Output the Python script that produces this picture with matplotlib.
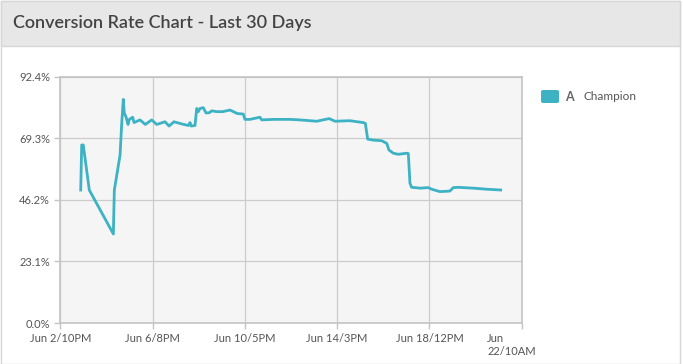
import matplotlib.pyplot as plt
import matplotlib.transforms as mtransforms
from matplotlib.patches import Rectangle, FancyBboxPatch

# hours since Jun 2, 10PM
hours = [20.7, 21.7, 23.3, 29.4, 53.8, 54.8, 60.6, 62.3, 63.9, 64.9,
         66.6, 68.7, 70.0, 73.4, 74.8, 80.8, 86.2, 92.7, 97.8, 106.2,
         110.3, 115.3, 123.1, 129.8, 131.6, 132.6, 136.6, 138.4, 140.0, 141.7,
         145.0, 147.8, 151.1, 153.6, 158.6, 164.7, 172.1, 179.5, 185.6, 187.3,
         192.4, 202.5, 204.3, 216.0, 233.0, 243.1, 260.1, 272.8, 278.6, 293.8,
         307.3, 309.4, 311.8, 317.5, 326.0, 331.1, 333.4, 337.8, 342.8, 351.4,
         353.0, 354.7, 356.4, 359.8, 364.8, 373.3, 376.7, 385.1, 395.2, 398.6,
         403.7, 418.9, 432.5, 446.7]
rate = [49.9, 66.8, 66.8, 49.9, 33.4, 49.9, 63.0, 74.9, 83.9, 78.7,
        77.4, 74.5, 76.4, 77.2, 75.2, 76.2, 74.5, 76.2, 74.5, 75.5,
        73.9, 75.5, 74.7, 74.1, 75.2, 73.9, 74.1, 80.5, 79.3, 80.5,
        80.8, 78.8, 78.9, 79.6, 79.3, 79.3, 79.9, 78.6, 78.4, 76.4,
        76.4, 77.2, 76.2, 76.4, 76.4, 76.2, 75.7, 76.7, 75.7, 75.9,
        75.2, 74.9, 69.0, 68.6, 68.4, 67.4, 64.9, 63.7, 63.3, 63.7,
        63.6, 52.4, 50.9, 50.8, 50.6, 50.8, 50.2, 49.3, 49.5, 50.8,
        50.9, 50.6, 50.2, 49.9]

x_ticks = [0, 93.6, 187.2, 280.8, 374.4, 468]
x_labels = ["Jun 2/10PM", "Jun 6/8PM", "Jun 10/5PM", "Jun 14/3PM",
            "Jun 18/12PM", "Jun\n22/10AM"]
y_ticks = [0, 23.1, 46.2, 69.3, 92.4]
y_labels = ["0.0%", "23.1%", "46.2%", "69.3%", "92.4%"]

line_color = "#3cb2c4"
text_color = "#555555"
plt.rcParams['font.family'] = ['Lato', 'DejaVu Sans']

fig = plt.figure(figsize=(6.83, 3.64), dpi=100, facecolor="white")

# panel border + header band
fig.patches.append(Rectangle((0.001, 0.0), 0.994, 0.998, transform=fig.transFigure,
                             facecolor="none", edgecolor="#d6d6d6", lw=1, zorder=0))
fig.patches.append(Rectangle((0.001, 0.873), 0.994, 0.125, transform=fig.transFigure,
                             facecolor="#e7e7e7", edgecolor="#d6d6d6", lw=1, zorder=1))
fig.text(0.019, 0.937, "Conversion Rate Chart - Last 30 Days", fontsize=13,
         color="#444444", va="center", ha="left", fontweight="semibold")

ax = fig.add_axes([0.0883, 0.1126, 0.6755, 0.6766])
ax.set_zorder(5)
ax.set_facecolor("#f5f5f5")
ax.plot(hours, rate, color=line_color, lw=2.0, solid_joinstyle="round")

ax.set_xlim(0, 468)
ax.set_ylim(0, 92.4)
ax.set_xticks(x_ticks)
ax.set_xticklabels(x_labels)
ax.set_yticks(y_ticks)
ax.set_yticklabels(y_labels)
ax.grid(True, color="#cccccc", lw=0.9)
ax.set_axisbelow(True)
for s in ax.spines.values():
    s.set_color("#c4c4c4")
    s.set_linewidth(1.2)
ax.tick_params(colors="#c4c4c4", labelcolor=text_color, labelsize=8, length=4, width=1)

last = ax.get_xticklabels()[-1]
last.set_multialignment("left")
last.set_transform(last.get_transform() + mtransforms.ScaledTranslation(-10 / 100, 0, fig.dpi_scale_trans))

# legend
fig.patches.append(FancyBboxPatch((541 / 683, 1 - 103 / 364), 18 / 683, 13 / 364,
                                  boxstyle="round,pad=0,rounding_size=0.004",
                                  transform=fig.transFigure, facecolor=line_color,
                                  edgecolor="none", zorder=6))
fig.text(565 / 683, 1 - 97 / 364, "A", fontsize=9, fontweight="bold", color="#666666",
         va="center", ha="left")
fig.text(583 / 683, 1 - 97 / 364, "Champion", fontsize=8.5, color="#555555",
         va="center", ha="left")

fig.savefig("out.png", dpi=100)
